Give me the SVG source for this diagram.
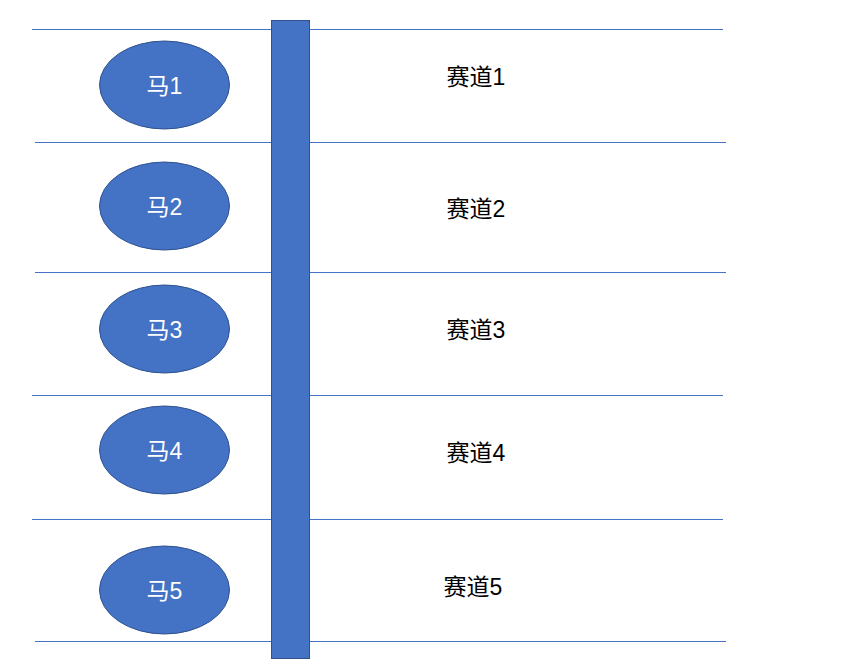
<svg xmlns="http://www.w3.org/2000/svg" width="847" height="664" viewBox="0 0 847 664">
<style>
.lane{stroke:#4472C4;stroke-width:1.2;fill:none}
.horse{fill:#4472C4;stroke:#2F528F;stroke-width:1}
.ht{fill:#fff;font-family:"Liberation Sans","Noto Sans CJK SC",sans-serif;font-size:23px;text-anchor:middle;dominant-baseline:central}
.lt{fill:#000;font-family:"Liberation Sans","Noto Sans CJK SC",sans-serif;font-size:23px;text-anchor:middle;dominant-baseline:central}
</style>
<rect width="847" height="664" fill="#fff"/>
<g id="lanes">
<line class="lane" x1="32" y1="29.5" x2="723" y2="29.5"/>
<line class="lane" x1="35" y1="142.5" x2="726" y2="142.5"/>
<line class="lane" x1="35" y1="272.5" x2="726" y2="272.5"/>
<line class="lane" x1="32" y1="395.5" x2="723" y2="395.5"/>
<line class="lane" x1="32" y1="519.5" x2="723" y2="519.5"/>
<line class="lane" x1="35" y1="641.5" x2="726" y2="641.5"/>
</g>
<g id="gate"><rect x="271.5" y="20.5" width="38" height="638" fill="#4472C4" stroke="#2F528F" stroke-width="1"/></g>
<g id="horse1"><ellipse class="horse" cx="164.5" cy="85" rx="65" ry="44"/><text class="ht" x="164.5" y="86">马1</text></g>
<g id="horse2"><ellipse class="horse" cx="164.5" cy="206" rx="65" ry="44"/><text class="ht" x="164.5" y="207">马2</text></g>
<g id="horse3"><ellipse class="horse" cx="164.5" cy="329" rx="65" ry="44"/><text class="ht" x="164.5" y="330">马3</text></g>
<g id="horse4"><ellipse class="horse" cx="164.5" cy="450" rx="65" ry="44"/><text class="ht" x="164.5" y="451">马4</text></g>
<g id="horse5"><ellipse class="horse" cx="164.5" cy="590" rx="65" ry="44"/><text class="ht" x="164.5" y="591">马5</text></g>
<g id="track1"><text class="lt" x="476" y="77">赛道1</text></g>
<g id="track2"><text class="lt" x="476" y="209">赛道2</text></g>
<g id="track3"><text class="lt" x="476" y="330">赛道3</text></g>
<g id="track4"><text class="lt" x="476" y="453">赛道4</text></g>
<g id="track5"><text class="lt" x="473" y="587">赛道5</text></g>
</svg>
